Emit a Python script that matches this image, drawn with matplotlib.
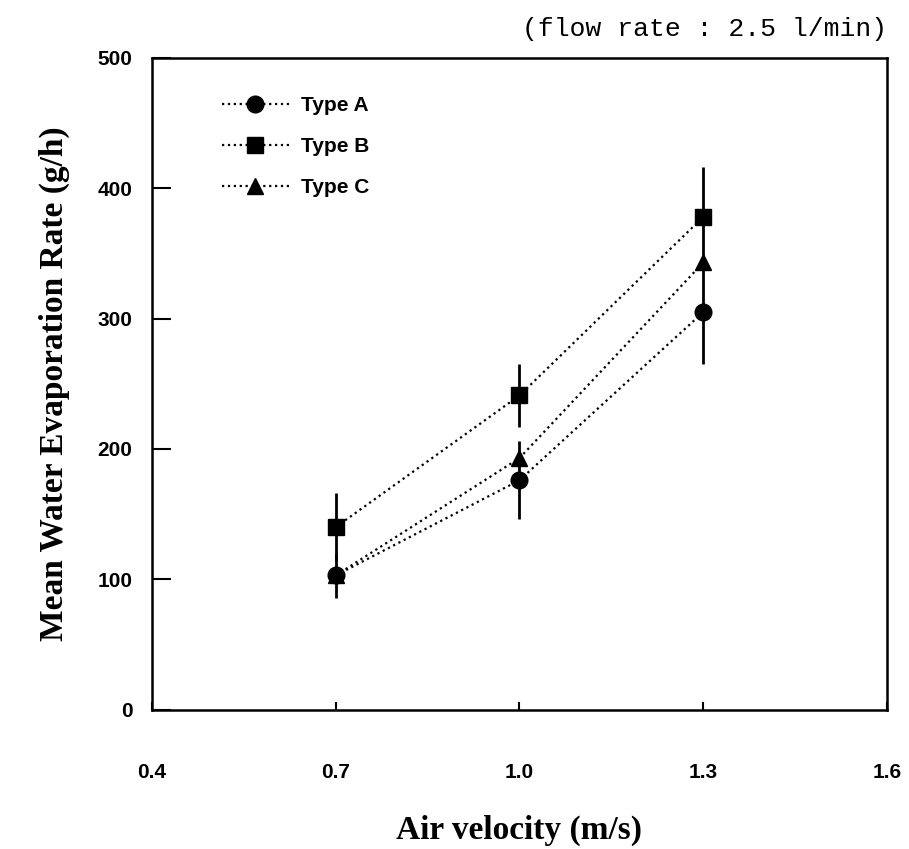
import numpy as np
import matplotlib.pyplot as plt

# air velocity (m/s)
velocity = [0.7, 1.0, 1.3]

# mean water evaporation rate (g/h)
type_a = [103, 176, 305]
type_b = [140, 241, 378]
type_c = [103, 193, 343]

# error bar half-widths
err_a = [17, 30, 40]
err_b = [26, 24, 38]

xticks = [0.4, 0.7, 1.0, 1.3, 1.6]
yticks = [0, 100, 200, 300, 400, 500]

fig = plt.figure(figsize=(9.09, 8.49), dpi=100)
ax = fig.add_axes([0.167, 0.164, 0.809, 0.768])

line_kw = dict(color='black', linestyle=':', linewidth=1.6, markersize=12)
ax.errorbar(velocity, type_a, yerr=err_a, fmt='none', ecolor='black',
            elinewidth=2, capsize=0, zorder=2)
ax.errorbar(velocity, type_b, yerr=err_b, fmt='none', ecolor='black',
            elinewidth=2, capsize=0, zorder=2)
ax.plot(velocity, type_a, marker='o', label='Type A', zorder=5, **line_kw)
ax.plot(velocity, type_b, marker='s', label='Type B', zorder=4, **line_kw)
ax.plot(velocity, type_c, marker='^', label='Type C', zorder=3, **line_kw)

ax.set_xlim(0.4, 1.6)
ax.set_ylim(0, 500)
ax.set_xticks(xticks)
ax.set_xticklabels(['0.4', '0.7', '1.0', '1.3', '1.6'])
ax.set_yticks(yticks)

for s in ax.spines.values():
    s.set_linewidth(1.8)

ax.tick_params(axis='y', direction='in', length=14, width=1.5, pad=14)
ax.tick_params(axis='x', direction='in', length=6, width=1.5, pad=38)
for lbl in ax.get_xticklabels() + ax.get_yticklabels():
    lbl.set_family('Liberation Sans')
    lbl.set_fontweight('bold')
    lbl.set_fontsize(15)

ax.set_xlabel('Air velocity (m/s)', family='Liberation Serif',
              fontweight='bold', fontsize=24, labelpad=24)
ax.set_ylabel('Mean Water Evaporation Rate (g/h)', family='Liberation Serif',
              fontweight='bold', fontsize=24, labelpad=20)

ax.text(1.0, 1.025, '(flow rate : 2.5 l/min)', transform=ax.transAxes,
        ha='right', va='bottom', family='Liberation Mono', fontsize=19)

leg = ax.legend(loc='upper left', bbox_to_anchor=(0.07, 0.97),
                frameon=False, handlelength=3.2, labelspacing=1.05,
                handletextpad=0.6,
                prop={'family': 'Liberation Sans', 'weight': 'bold',
                      'size': 15})

fig.savefig('out.png', dpi=100)
